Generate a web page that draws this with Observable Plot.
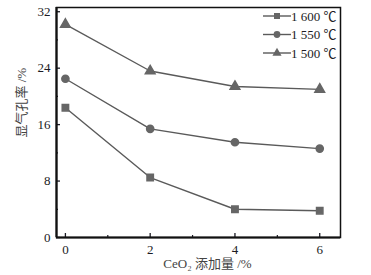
<!DOCTYPE html>
<html><head><meta charset="utf-8">
<script src="https://cdn.jsdelivr.net/npm/d3@7"></script>
<script src="https://cdn.jsdelivr.net/npm/@observablehq/plot@0.6"></script>
<style>body{margin:0;background:#fff} svg text{font-family:"Liberation Serif","Times New Roman","Noto Sans CJK SC",serif}</style>
</head><body><div id="chart"></div>
<script>
const ceo2 = [0, 2, 4, 6];
const t1600 = [18.4, 8.5, 4.0, 3.8];
const t1550 = [22.5, 15.4, 13.5, 12.6];
const t1500 = [30.2, 23.6, 21.4, 21.0];
const seriesNames = ["1 600 ℃", "1 550 ℃", "1 500 ℃"];
const seriesValues = [t1600, t1550, t1500];
const symbols = ["square", "circle", "triangle"];
const yTicks = [0, 8, 16, 24, 32];
const yMinor = [4, 12, 20, 28];
const xTicks = [0, 2, 4, 6];
const xMinor = [1, 3, 5];

const data = seriesNames.flatMap((s, i) => ceo2.map((x, j) => ({series: s, x, y: seriesValues[i][j], sym: symbols[i]})));
const lineColor = "#5a5a5a";
const markColor = "#666";
const font = "'Liberation Serif', 'Times New Roman', serif";
const textColor = "#1b1b24";

const plot = Plot.plot({
  width: 371, height: 275,
  marginLeft: 56, marginRight: 31, marginTop: 7, marginBottom: 38,
  style: {fontFamily: font, fontSize: "13px", color: textColor, background: "#fff"},
  x: {domain: [-0.21, 6.49]},
  y: {domain: [0, 32.6]},
  symbol: {domain: symbols, range: symbols},
  marks: [
    Plot.line(data, {x: "x", y: "y", z: "series", stroke: lineColor, strokeWidth: 1.4}),
    Plot.dot(data, {x: "x", y: "y", symbol: "sym", fill: markColor, stroke: markColor, r: 3.6}),
    Plot.axisY(yTicks, {anchor: "left", tickSize: -4, tickPadding: 10, label: null, strokeWidth: 1.3, fontSize: 13}),
    Plot.axisY(yMinor, {anchor: "left", tickSize: -2, text: null, label: null, strokeWidth: 1.2}),
    Plot.axisX(xTicks, {anchor: "bottom", tickSize: -4, tickPadding: 11, label: null, strokeWidth: 1.3, fontSize: 13}),
    Plot.axisX(xMinor, {anchor: "bottom", tickSize: -2, text: null, label: null, strokeWidth: 1.2}),
    Plot.frame({stroke: "#111", strokeWidth: 1.5}),
    Plot.ruleX([-0.21], {stroke: "#111", strokeWidth: 2.2}),
    Plot.ruleY([0], {stroke: "#111", strokeWidth: 2.2}),
    Plot.text(["显气孔率 /%"], {frameAnchor: "left", dx: -35, dy: 15, rotate: -90, fontSize: 13, fill: "#444"}),
    Plot.text(["CeO₂ 添加量 /%"], {frameAnchor: "bottom", dy: 30, dx: 9, fontSize: 13, fill: "#444"})
  ]
});

// legend inside the plot, drawn with d3 from the series arrays
const svg = d3.select(plot);
const lg = svg.append("g").attr("transform", "translate(263,16)").attr("text-anchor", "start");
seriesNames.forEach((name, i) => {
  const g = lg.append("g").attr("transform", `translate(0,${i * 18.5})`);
  g.append("line").attr("x1", 0).attr("x2", 28).attr("y1", 0).attr("y2", 0).attr("stroke", lineColor).attr("stroke-width", 1.4);
  const sym = {square: d3.symbolSquare, circle: d3.symbolCircle, triangle: d3.symbolTriangle}[symbols[i]];
  g.append("path").attr("d", d3.symbol(sym, 36)()).attr("transform", "translate(14,0)").attr("fill", markColor).attr("stroke", "none");
  g.append("text").attr("x", 28).attr("y", 0).attr("dy", "0.35em").attr("text-anchor", "start")
    .style("font-size", "13px").attr("fill", textColor).text(name);
});
document.getElementById("chart").append(plot);
</script>
</body></html>
